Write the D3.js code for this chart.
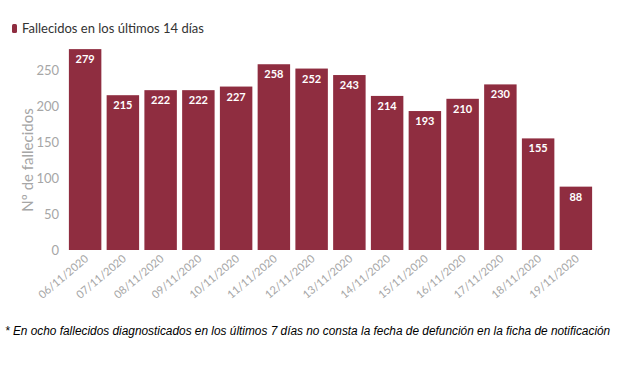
<!DOCTYPE html>
<html><head><meta charset="utf-8">
<script src="https://cdn.jsdelivr.net/npm/d3@7"></script>
<style>body{margin:0;background:#fff}svg{display:block}</style>
</head><body>
<svg id="c" width="620" height="368"></svg>
<script>
const categories = ["06/11/2020","07/11/2020","08/11/2020","09/11/2020","10/11/2020","11/11/2020","12/11/2020","13/11/2020","14/11/2020","15/11/2020","16/11/2020","17/11/2020","18/11/2020","19/11/2020"];
const values = [279,215,222,222,227,258,252,243,214,193,210,230,155,88];
const yTicks = [0,50,100,150,200,250];
const seriesName = "Fallecidos en los últimos 14 días";
const yTitle = "Nº de fallecidos";
const footnote = "* En ocho fallecidos diagnosticados en los últimos 7 días no consta la fecha de defunción en la ficha de notificación";

const svg = d3.select("#c");
const color = "#8f2d40";
const font = "Lato, 'Open Sans', sans-serif";

const x = d3.scaleBand().domain(categories).range([67, 594]).paddingInner(0.14).paddingOuter(0.05);
const y = d3.scaleLinear().domain([0, 250]).range([250, 70]);

// y axis
const ya = svg.append("g").attr("transform","translate(59,0)")
  .call(d3.axisLeft(y).tickValues(yTicks).tickSize(0).tickPadding(0));
ya.select(".domain").remove();
ya.selectAll("text").attr("font-family", font).attr("font-size", 13).attr("fill", "#a6a6a6").attr("dy","0.35em");

svg.append("text").attr("transform","translate(33,160) rotate(-90)")
  .attr("text-anchor","middle").attr("font-family",font).attr("font-size",15).attr("fill","#a6a6a6").text(yTitle);

// bars
svg.append("g").selectAll("rect").data(values).join("rect")
  .attr("x",(d,i)=>x(categories[i])).attr("width",x.bandwidth())
  .attr("y",d=>y(d)).attr("height",d=>y(0)-y(d)).attr("fill",color);

svg.append("g").selectAll("text").data(values).join("text")
  .attr("x",(d,i)=>x(categories[i])+x.bandwidth()/2).attr("y",d=>y(d)+14)
  .attr("text-anchor","middle").attr("font-family",font).attr("font-size",11).attr("font-weight","bold")
  .attr("fill","#fff").text(d=>d);

// x axis
const xa = svg.append("g").attr("transform","translate(0,250)")
  .call(d3.axisBottom(x).tickSize(0).tickPadding(0));
xa.select(".domain").remove();
xa.selectAll("text").attr("font-family",font).attr("font-size",11).attr("fill","#a6a6a6")
  .attr("text-anchor","end").attr("dy",0).attr("y",0)
  .attr("transform","translate(4,10) rotate(-40)");

// legend
svg.append("rect").attr("x",12).attr("y",24).attr("width",5).attr("height",9).attr("rx",1.5).attr("fill",color);
svg.append("text").attr("x",22).attr("y",33).attr("font-family",font).attr("font-size",13).attr("fill","#333").text(seriesName);

// footnote: fit natural width to ~608px
const fn = svg.append("text").attr("x",5).attr("y",335)
  .attr("font-family","'Liberation Sans Narrow', 'Liberation Sans', Arial, sans-serif")
  .attr("font-style","italic").attr("font-size",14).attr("fill","#000").text(footnote);
const w = fn.node().getComputedTextLength();
if (w > 0) fn.attr("font-size", Math.min(16, 14 * 606 / w));
</script>
</body></html>
